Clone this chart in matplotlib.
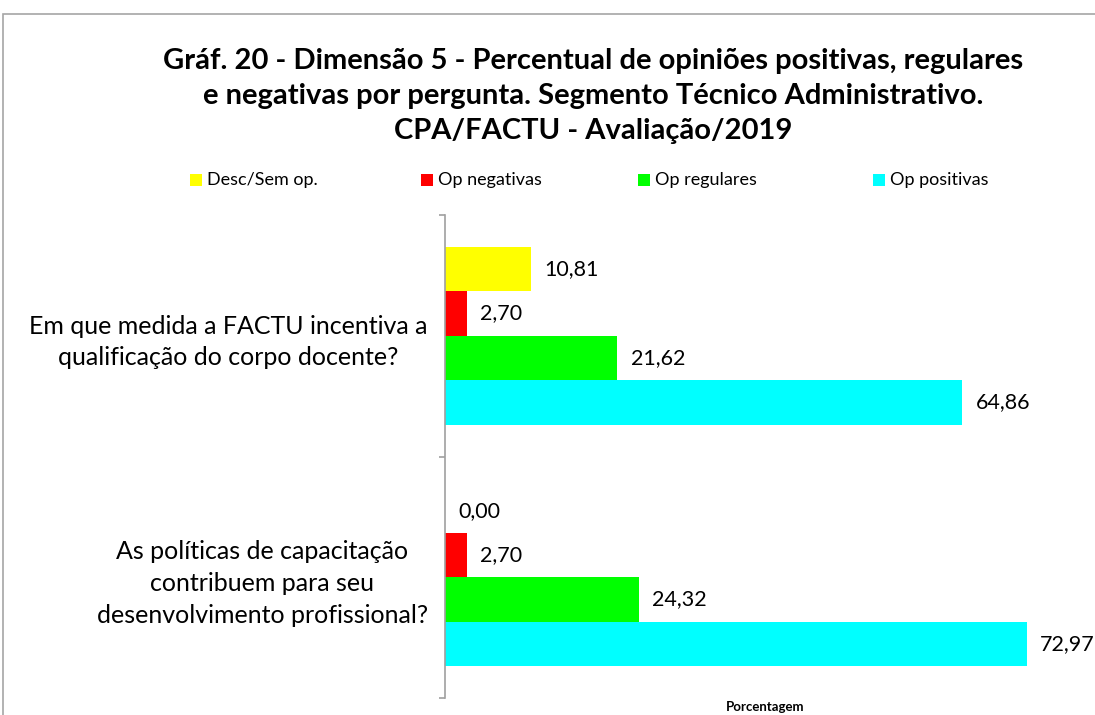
import matplotlib
matplotlib.use("Agg")
import matplotlib.pyplot as plt
from matplotlib.patches import Rectangle
import numpy as np

plt.rcParams['font.family'] = ['Lato', 'DejaVu Sans']

categories = ["As políticas de capacitação\ncontribuem para seu\ndesenvolvimento profissional?",
              "Em que medida a FACTU incentiva a\nqualificação do corpo docente?"]
series_names = ["Desc/Sem op.", "Op negativas", "Op regulares", "Op positivas"]
desc_sem_op = [0.00, 10.81]
op_negativas = [2.70, 2.70]
op_regulares = [24.32, 21.62]
op_positivas = [72.97, 64.86]
colors = ["#FFFF00", "#FF0000", "#00FF00", "#00FFFF"]

title = ("Gráf. 20 - Dimensão 5 - Percentual de opiniões positivas, regulares\n"
         "e negativas por pergunta. Segmento Técnico Administrativo.\n"
         "CPA/FACTU - Avaliação/2019")

W, H = 1095, 715
fig = plt.figure(figsize=(W/100, H/100), dpi=100)

# figure border
fig.patches.append(Rectangle((3/W, -0.05), 1.2, 1 - 14/H + 0.05, transform=fig.transFigure,
                             fill=False, edgecolor="#A6A6A6", linewidth=1.2))

ax = fig.add_axes([445/W, 1 - 698/H, (1085 - 445)/W, (698 - 215)/H])
y = np.arange(len(categories))
h = 0.184
series = [desc_sem_op, op_negativas, op_regulares, op_positivas]
offsets = [1.5*h, 0.5*h, -0.5*h, -1.5*h]
for vals, off, c, name in zip(series, offsets, colors, series_names):
    bars = ax.barh(y + off, vals, height=h, color=c, label=name, edgecolor='none')
    for b, v in zip(bars, vals):
        ax.annotate(f"{v:.2f}".replace(".", ","), (v, b.get_y() + b.get_height()/2),
                    xytext=(9.5, 0), textcoords="offset points", ha="left", va="center",
                    fontsize=15.5, color="#000000")

ax.set_xlim(0, (1085 - 445)/7.976)
ax.set_ylim(-0.5, 1.5)
for s in ["top", "right", "bottom"]:
    ax.spines[s].set_visible(False)
ax.spines["left"].set_color("#A0A0A0")
ax.spines["left"].set_linewidth(1.2)
ax.set_xticks([])
ax.set_yticks(y)
ax.set_yticklabels(categories, fontsize=18, multialignment="center")
for t in ax.get_yticklabels():
    t.set_linespacing(1.45)
ax.tick_params(axis="y", which="major", length=0, pad=12.5)
ax.set_yticks([-0.5, 0.5, 1.5], minor=True)
ax.tick_params(axis="y", which="minor", length=4, color="#A0A0A0", width=1.2, direction="out")

# x-axis title (sits at the very bottom edge, as in the reference)
fig.text((445 + 1085) / 2 / W, 2 / H, "Porcentagem", ha="center", va="bottom",
         fontsize=9.5, fontweight="bold")

fig.text(593/W, 1 - 96/H, title, ha="center", va="center", fontsize=21,
         fontweight="bold", linespacing=1.42)

# legend row
sq_x = [190, 421, 638, 873]
for sx, c, name in zip(sq_x, colors, series_names):
    fig.patches.append(Rectangle((sx/W, 1 - 186/H), 12/W, 12/H, transform=fig.transFigure,
                                 facecolor=c, edgecolor="none"))
    fig.text((sx + 17)/W, 1 - 180/H, name, ha="left", va="center", fontsize=13)

fig.savefig("out.png", dpi=100)
